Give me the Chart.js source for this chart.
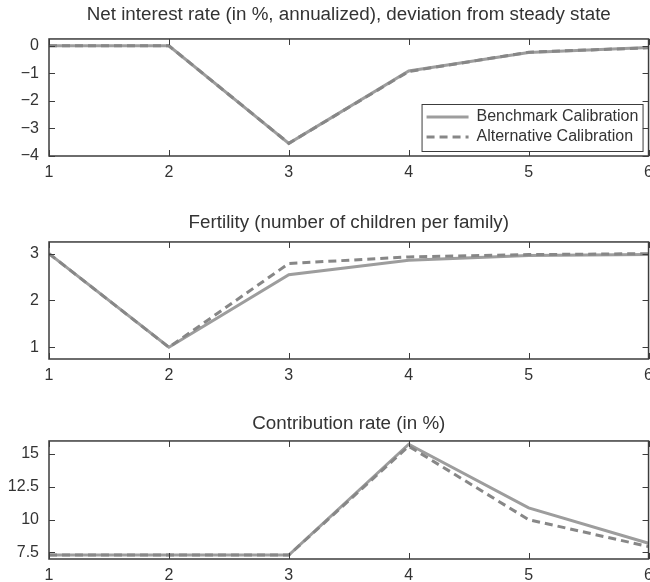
<!DOCTYPE html>
<html>
<head>
<meta charset="utf-8">
<script src="https://cdn.jsdelivr.net/npm/chart.js@4.4.0/dist/chart.umd.min.js"></script>
<style>
  html, body { margin: 0; padding: 0; background: #fff; overflow: hidden; width: 650px; height: 582px; }
  .panel { position: absolute; left: 0; }
</style>
</head>
<body>
<div class="panel" style="top:0px"><canvas id="c1" width="660" height="184"></canvas></div>
<div class="panel" style="top:200px"><canvas id="c2" width="660" height="187"></canvas></div>
<div class="panel" style="top:390px"><canvas id="c3" width="660" height="197"></canvas></div>
<script>
// periods on the x axis
const periods = [1, 2, 3, 4, 5, 6];
const xTicks = [1, 2, 3, 4, 5, 6];

// net interest rate, deviation from steady state (%)
const interestBenchmark = [0, 0, -3.54, -0.91, -0.24, -0.06];
const interestAlternative = [0, 0, -3.54, -0.93, -0.23, -0.07];
const interestTicks = [-4, -3, -2, -1, 0];

// fertility (children per family)
const fertilityBenchmark = [3, 1, 2.55, 2.86, 2.96, 2.98];
const fertilityAlternative = [3, 1, 2.79, 2.93, 2.98, 3.0];
const fertilityTicks = [1, 2, 3];

// contribution rate (%)
const contribBenchmark = [7.3, 7.3, 7.3, 15.75, 10.9, 8.2];
const contribAlternative = [7.3, 7.3, 7.3, 15.6, 10.0, 7.95];
const contribTicks = [7.5, 10, 12.5, 15];

const seriesLabels = ['Benchmark Calibration', 'Alternative Calibration'];

const FONT = '"Liberation Sans", Arial, Helvetica, sans-serif';
const INK = '#333';

// box round the plot plus inward ticks on all four sides
const framePlugin = {
  id: 'frame',
  afterDatasetsDraw(chart) {
    const { ctx, chartArea: a, scales } = chart;
    ctx.save();
    ctx.strokeStyle = '#3c3c3c';
    ctx.lineWidth = 1;
    scales.x.ticks.forEach((t, i) => {
      const px = Math.round(scales.x.getPixelForTick(i)) + 0.5;
      ctx.beginPath();
      ctx.moveTo(px, a.bottom); ctx.lineTo(px, a.bottom - 6);
      ctx.moveTo(px, a.top); ctx.lineTo(px, a.top + 6);
      ctx.stroke();
    });
    scales.y.ticks.forEach((t, i) => {
      const py = Math.round(scales.y.getPixelForTick(i)) + 0.5;
      ctx.beginPath();
      ctx.moveTo(a.left, py); ctx.lineTo(a.left + 6, py);
      ctx.moveTo(a.right, py); ctx.lineTo(a.right - 6, py);
      ctx.stroke();
    });
    ctx.lineWidth = 1.5;
    ctx.strokeRect(a.left, a.top, a.right - a.left, a.bottom - a.top);
    ctx.restore();
  }
};

// legend box in the lower right corner of the plot
const boxLegend = {
  id: 'boxLegend',
  afterDraw(chart, args, opts) {
    if (!opts.show) return;
    const { ctx, chartArea: a } = chart;
    const w = 221, h = 47;
    const x0 = a.right - 6 - w, y0 = a.bottom - 5 - h;
    ctx.save();
    ctx.fillStyle = '#fff';
    ctx.fillRect(x0, y0, w, h);
    ctx.strokeStyle = '#3c3c3c';
    ctx.lineWidth = 1;
    ctx.strokeRect(x0 + 0.5, y0 + 0.5, w, h);
    ctx.font = '16px ' + FONT;
    ctx.textBaseline = 'middle';
    chart.data.datasets.forEach((ds, i) => {
      const cy = y0 + 13 + i * 20;
      ctx.strokeStyle = ds.borderColor;
      ctx.lineWidth = ds.borderWidth;
      ctx.setLineDash(ds.borderDash || []);
      ctx.beginPath();
      ctx.moveTo(x0 + 5, cy); ctx.lineTo(x0 + 47, cy);
      ctx.stroke();
      ctx.setLineDash([]);
      ctx.fillStyle = INK;
      ctx.fillText(ds.label, x0 + 55, cy);
    });
    ctx.restore();
  }
};

function toPoints(vals) {
  return periods.map((p, i) => ({ x: p, y: vals[i] }));
}

function makeChart(id, title, bench, alt, yMin, yMax, yTicks, padTop, padBottom, legend) {
  new Chart(document.getElementById(id), {
    type: 'line',
    data: {
      datasets: [
        {
          label: seriesLabels[0],
          data: toPoints(bench),
          borderColor: '#9d9d9d',
          borderWidth: 3,
          pointRadius: 0,
          order: 2
        },
        {
          label: seriesLabels[1],
          data: toPoints(alt),
          borderColor: '#878787',
          borderWidth: 3,
          borderDash: [8, 5],
          pointRadius: 0,
          order: 1
        }
      ]
    },
    options: {
      responsive: false,
      animation: false,
      layout: { padding: { left: 0, right: 11, top: 0, bottom: 0 } },
      plugins: {
        legend: { display: false },
        tooltip: { enabled: false },
        title: {
          display: true,
          text: title,
          fullSize: false,
          color: INK,
          font: { family: FONT, size: 18.8, weight: 'normal' },
          padding: { top: padTop, bottom: padBottom }
        },
        boxLegend: { show: legend }
      },
      scales: {
        x: {
          type: 'linear',
          min: 1,
          max: 6,
          grid: { display: false, drawTicks: false },
          border: { display: false },
          afterBuildTicks: s => { s.ticks = xTicks.map(v => ({ value: v })); },
          afterFit: s => { s.height = 28; },
          ticks: { color: INK, padding: 7, font: { family: FONT, size: 16 } }
        },
        y: {
          min: yMin,
          max: yMax,
          grid: { display: false, drawTicks: false },
          border: { display: false },
          afterBuildTicks: s => { s.ticks = yTicks.map(v => ({ value: v })); },
          afterFit: s => { s.width = 49; },
          ticks: {
            color: INK,
            padding: 10,
            font: { family: FONT, size: 16 },
            callback: v => String(v).replace('-', '\u2212')
          }
        }
      }
    },
    plugins: [framePlugin, boxLegend]
  });
}

makeChart('c1', 'Net interest rate (in %, annualized), deviation from steady state',
  interestBenchmark, interestAlternative, -4, 0.25, interestTicks, 3.7, 12.7, true);
makeChart('c2', 'Fertility (number of children per family)',
  fertilityBenchmark, fertilityAlternative, 0.75, 3.25, fertilityTicks, 11.7, 7.7, false);
makeChart('c3', 'Contribution rate (in %)',
  contribBenchmark, contribAlternative, 7, 16, contribTicks, 22.7, 5.7, false);
</script>
</body>
</html>
